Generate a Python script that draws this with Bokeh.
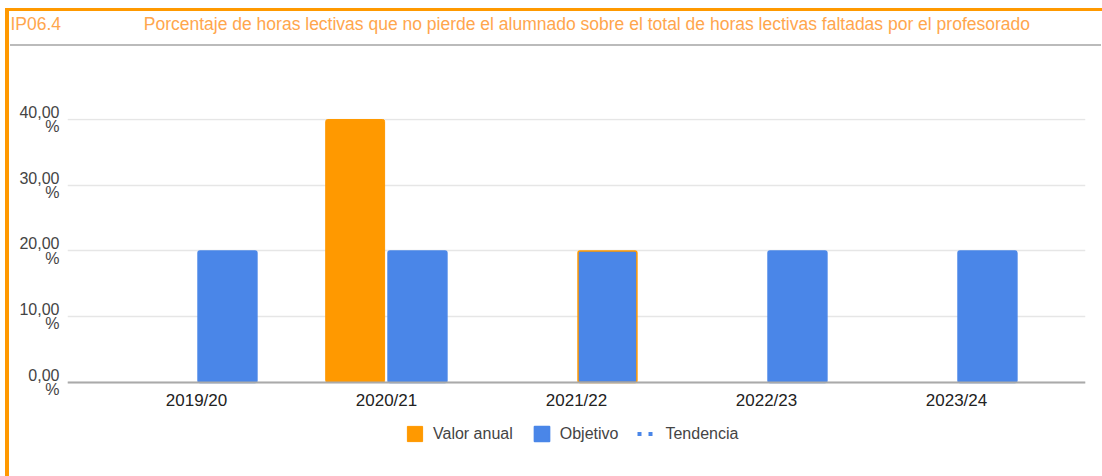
import math
from bokeh.plotting import figure
from bokeh.models import (FactorRange, Range1d, Title, Legend, LegendItem,
                          ColumnDataSource, FixedTicker)
from bokeh.transform import dodge
from bokeh.embed import file_html
from bokeh.resources import INLINE

# ---- data ----
categories = ["2019/20", "2020/21", "2021/22", "2022/23", "2023/24"]
valor_anual = [math.nan, 40.0, math.nan, math.nan, math.nan]
objetivo = [20.0, 20.0, 20.0, 20.0, 20.0]
tendencia = [math.nan, math.nan, math.nan, math.nan, math.nan]  # no trend values shown
y_ticks = [0, 10, 20, 30, 40]
y_tick_labels = ["0,00\n%", "10,00\n%", "20,00\n%", "30,00\n%", "40,00\n%"]
code = "IP06.4"
title = "Porcentaje de horas lectivas que no pierde el alumnado sobre el total de horas lectivas faltadas por el profesorado"

ORANGE = "#ff9900"
BLUE = "#4a86e8"
TITLE_COLOR = "#ffa64d"
FONT = "Liberation Sans"
highlight = "2021/22"
obj_outline = [ORANGE if c == highlight else BLUE for c in categories]

src = ColumnDataSource(dict(cat=categories, valor=valor_anual, obj=objetivo,
                            trend=tendencia, obj_line=obj_outline))

# frame spans down to the legend row; the x axis is pinned at y = 0
p = figure(x_range=FactorRange(*categories, range_padding=0.179, range_padding_units="absolute"),
           y_range=Range1d(-9.43, 40.15), width=1102, height=476,
           output_backend="svg", toolbar_location=None,
           min_border_left=67, min_border_right=17, min_border_top=118, min_border_bottom=32)

p.outline_line_color = None
p.background_fill_color = "white"
p.border_fill_alpha = 0
# page decoration: orange frame edges and the grey rule under the title row (CSS backgrounds)
p.styles = {
    "background-color": "white",
    "background-image": ("linear-gradient(#ff9900,#ff9900), linear-gradient(#ff9900,#ff9900), "
                         "linear-gradient(#bbbbbb,#bbbbbb)"),
    "background-size": "1097px 3px, 4px 468px, 1091px 2px",
    "background-position": "5px 8px, 5px 8px, 10px 44px",
    "background-repeat": "no-repeat",
}

r1 = p.vbar(x=dodge("cat", -0.165, range=p.x_range), top="valor", width=0.31, source=src,
            fill_color=ORANGE, line_color=ORANGE, border_radius=2)
r2 = p.vbar(x=dodge("cat", 0.163, range=p.x_range), top="obj", width=0.31, source=src,
            fill_color=BLUE, line_color="obj_line", line_width=1.5, border_radius=2)
r3 = p.line(x="cat", y="trend", source=src, line_color=BLUE, line_width=4, line_dash="4 7 4 20")

p.yaxis.ticker = FixedTicker(ticks=y_ticks)
p.yaxis.major_label_overrides = {t: l for t, l in zip(y_ticks, y_tick_labels)}
p.yaxis.axis_line_color = None
p.yaxis.major_tick_line_color = None
p.yaxis.major_tick_out = 0
p.yaxis.minor_tick_line_color = None
p.yaxis.minor_tick_out = 0
p.yaxis.major_label_text_font = FONT
p.yaxis.major_label_text_font_size = "16px"
p.yaxis.major_label_text_color = "#444444"
p.yaxis.major_label_text_line_height = 0.85
p.yaxis.major_label_standoff = 8

p.xaxis.fixed_location = 0
p.xaxis.axis_line_color = "#aaaaaa"
p.xaxis.axis_line_width = 2
p.xaxis.major_tick_line_color = None
p.xaxis.major_tick_out = 0
p.xaxis.minor_tick_line_color = None
p.xaxis.minor_tick_out = 0
p.xaxis.major_label_text_font = FONT
p.xaxis.major_label_text_font_size = "17px"
p.xaxis.major_label_text_color = "#222222"
p.xaxis.major_label_standoff = 9

p.xgrid.grid_line_color = None
p.ygrid.grid_line_color = "#e6e6e6"
p.ygrid.grid_line_width = 1.5

legend = Legend(items=[LegendItem(label="Valor anual", renderers=[r1]),
                       LegendItem(label="Objetivo", renderers=[r2]),
                       LegendItem(label="Tendencia", renderers=[r3])],
                orientation="horizontal", location=(338, 1), padding=0, margin=0,
                spacing=19, label_standoff=9, glyph_width=19, glyph_height=19, label_height=19,
                border_line_color=None, background_fill_alpha=0,
                label_text_font=FONT, label_text_font_size="16px", label_text_color="#444444")
p.add_layout(legend)

# title row: a blank spacer keeps the heading up at the top of the card
p.add_layout(Title(text="\u00a0", standoff=63, text_font=FONT, text_font_size="17.5px",
                   text_font_style="normal"), "above")
gap = "\u00a0" * 17
p.add_layout(Title(text=code + gap + title, align="left", offset=-57, standoff=0,
                   text_font=FONT, text_font_size="17.5px", text_font_style="normal",
                   text_color=TITLE_COLOR), "above")

open("out.html", "w").write(file_html(p, INLINE))
